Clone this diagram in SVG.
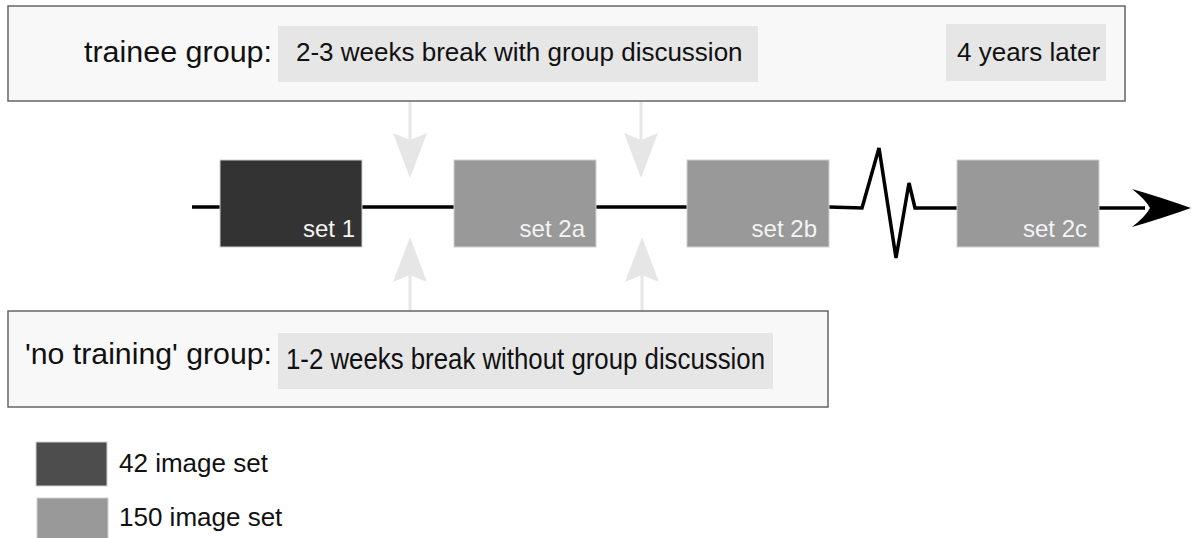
<svg xmlns="http://www.w3.org/2000/svg" width="1191" height="538" viewBox="0 0 1191 538">
<style>
text{font-family:"Liberation Sans",Arial,sans-serif;fill:#111}
.grp{fill:#f8f8f8;stroke:#666;stroke-width:1.5}
.inner{fill:#e6e6e6}
.lbl{font-size:30px}
.t26{font-size:26px}
.set{stroke:#d0d0d0;stroke-width:1}
.dark{fill:#333}
.light{fill:#999}
.setlbl{font-size:24px;fill:#f4f4f4;text-anchor:end}
.shaft{stroke:#e6e6e6;stroke-width:3;fill:none}
.head{fill:#e6e6e6}
.tl{stroke:#000;stroke-width:3.5;fill:none;stroke-linejoin:miter}
</style>
<g id="connectors">
<path class="tl" d="M192,207 H829 L862,208 L879,148 L896,258 L909,183 L915,208 H1145"/>
<path d="M1191,208 Q1160,197 1132,189 Q1146,200 1150,208 Q1146,216 1132,227 Q1160,219 1191,208 Z" fill="#000"/>
<line class="shaft" x1="410" y1="82" x2="410" y2="145"/>
<path class="head" d="M410,178 L393,133 L410,140 L427,133 Z"/>
<line class="shaft" x1="641" y1="82" x2="641" y2="145"/>
<path class="head" d="M641,178 L624,133 L641,140 L658,133 Z"/>
<line class="shaft" x1="410" y1="333" x2="410" y2="272"/>
<path class="head" d="M410,237 L393,282 L410,275 L427,282 Z"/>
<line class="shaft" x1="642" y1="333" x2="642" y2="272"/>
<path class="head" d="M642,237 L625,282 L642,275 L659,282 Z"/>
</g>
<g id="trainee-group">
<rect class="grp" x="8" y="6" width="1117" height="95"/>
<text class="lbl" x="84" y="62" textLength="188" lengthAdjust="spacingAndGlyphs">trainee group:</text>
</g>
<g id="trainee-break">
<rect class="inner" x="278" y="26" width="480" height="56"/>
<text class="t26" x="296" y="61">2-3 weeks break with group discussion</text>
</g>
<g id="four-years">
<rect class="inner" x="946" y="24" width="160" height="57"/>
<text class="t26" x="957" y="61">4 years later</text>
</g>
<g id="set1">
<rect class="set dark" x="220" y="160" width="142" height="87"/>
<text class="setlbl" x="355" y="237">set 1</text>
</g>
<g id="set2a">
<rect class="set light" x="454" y="160" width="142" height="87"/>
<text class="setlbl" x="585" y="237">set 2a</text>
</g>
<g id="set2b">
<rect class="set light" x="687" y="160" width="142" height="87"/>
<text class="setlbl" x="817" y="237">set 2b</text>
</g>
<g id="set2c">
<rect class="set light" x="957" y="160" width="142" height="87"/>
<text class="setlbl" x="1087" y="237">set 2c</text>
</g>
<g id="no-training-group">
<rect class="grp" x="8" y="311" width="820" height="96"/>
<text class="lbl" x="25" y="364" textLength="247" lengthAdjust="spacingAndGlyphs">'no training' group:</text>
</g>
<g id="no-training-break">
<rect class="inner" x="278" y="333" width="495" height="56"/>
<text x="286" y="369" font-size="29" textLength="479" lengthAdjust="spacingAndGlyphs">1-2 weeks break without group discussion</text>
</g>
<g id="legend">
<rect x="36" y="442" width="71" height="44" fill="#4d4d4d" stroke="#d0d0d0" stroke-width="1"/>
<text class="t26" x="119" y="472">42 image set</text>
<rect x="37" y="498" width="71" height="44" fill="#999" stroke="#d0d0d0" stroke-width="1"/>
<text class="t26" x="119" y="526">150 image set</text>
</g>
</svg>
